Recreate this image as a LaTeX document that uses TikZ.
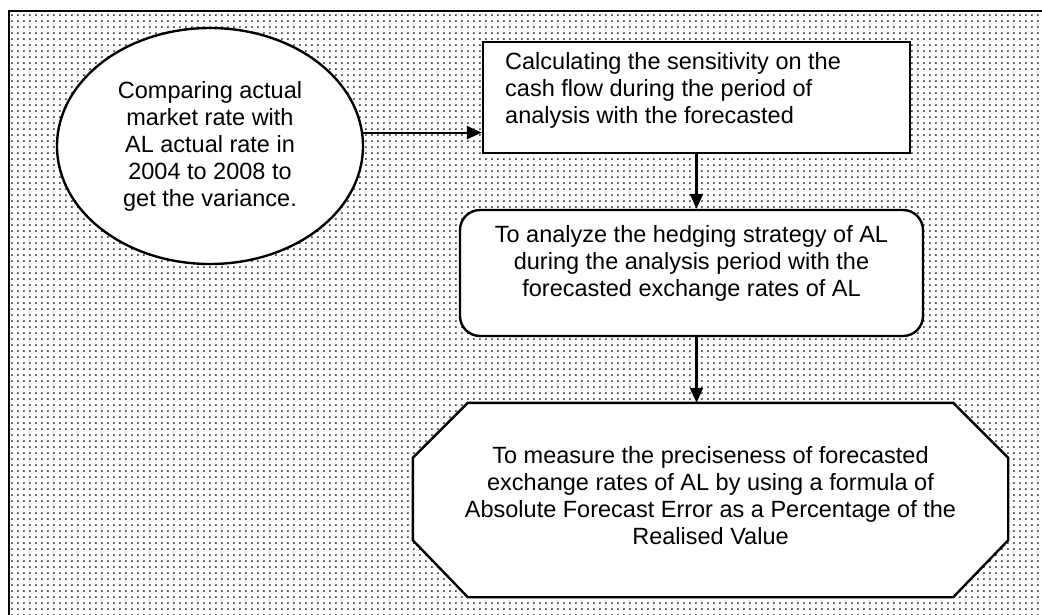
\documentclass[tikz,border=0pt]{standalone}
\usepackage{fontspec}
\setmainfont{Liberation Sans}
\usetikzlibrary{shapes.geometric,patterns.meta,arrows.meta}
\begin{document}
\begin{tikzpicture}[x=1pt,y=-1pt,
  every node/.style={font=\fontsize{23.5}{27}\selectfont, inner sep=0pt},
  arr/.style={line width=2.2pt, -{Triangle[length=15pt,width=13pt]}},
  shapebox/.style={draw, line width=2.4pt, fill=white},
  plaintext/.style={align=center},
]
\useasboundingbox (0,0) rectangle (1042,614);
\clip (0,0) rectangle (1042,614);
\fill[white] (0,0) rectangle (1042,614);
\draw[line width=2.6pt, pattern={Dots[distance=6.4pt,radius=1pt]}, pattern color=black] (9,11) rectangle (1060,630);

\node[shapebox, ellipse, minimum width=306pt, minimum height=236pt, align=center] (ell) at (210,146)
  {Comparing actual\\market rate with\\AL actual rate in\\2004 to 2008 to\\get the variance.};

\node[shapebox, rectangle, minimum width=427pt, minimum height=111pt] (calc) at (696.5,97.5) {};
\node[anchor=north west, align=left] (calctext) at (505,52)
  {Calculating the sensitivity on the\\cash flow during the period of\\analysis with the forecasted};

\node[shapebox, rectangle, rounded corners=20pt, minimum width=463pt, minimum height=126pt] (hedge) at (691.5,273) {};
\node[plaintext] (hedgetext) at (691.5,263)
  {To analyze the hedging strategy of AL\\during the analysis period with the\\forecasted exchange rates of AL};

\node[minimum width=595pt, minimum height=194pt] (meas) at (710.5,500) {};
\draw[shapebox]
  ([xshift=55pt]meas.north west) -- ([xshift=-55pt]meas.north east)
  -- ([yshift=-55pt]meas.north east) -- ([yshift=57pt]meas.south east)
  -- ([xshift=-55pt]meas.south east) -- ([xshift=55pt]meas.south west)
  -- ([yshift=57pt]meas.south west) -- ([yshift=-55pt]meas.north west) -- cycle;
\node[plaintext] (meastext) at (710.5,496)
  {To measure the preciseness of forecasted\\exchange rates of AL by using a formula of\\Absolute Forecast Error as a Percentage of the\\Realised Value};

\draw[arr] (ell.5) -- (ell.5 -| calc.west);
\draw[arr] (calc.south) -- (calc.south |- hedge.north);
\draw[arr] (calc.south |- hedge.south) -- (calc.south |- meas.north);
\end{tikzpicture}
\end{document}
